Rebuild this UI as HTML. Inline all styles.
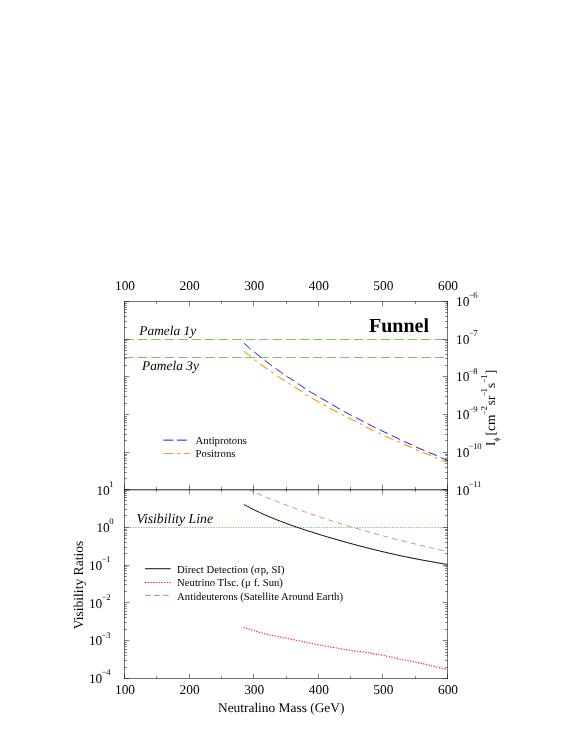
<!DOCTYPE html><html><head><meta charset="utf-8"><title>Funnel</title><style>
html,body{margin:0;padding:0;background:#fff;}body{width:572px;height:740px;overflow:hidden;}
svg{display:block;font-family:"Liberation Serif",serif;text-rendering:geometricPrecision;}
text{fill:#000;}
.t{font-size:13.4px;}.s{font-size:8.7px;letter-spacing:-0.4px;}.l{font-size:10.7px;}.i{font-size:13.4px;font-style:italic;}
</style></head><body>
<svg width="572" height="740" viewBox="0 0 572 740" style="opacity:0.999;will-change:transform">
<rect width="572" height="740" fill="#fff"/>
<path d="M124.2 339.5 H447.5" stroke="#58c23a" stroke-width="0.85" stroke-dasharray="9.5 4" fill="none"/>
<path d="M124.2 357.5 H447.5" stroke="#58c23a" stroke-width="0.85" stroke-dasharray="9.5 4" fill="none"/>
<path d="M244.0 343.2 L250.8 349.3 L254.2 352.0 L261.5 357.6 L264.7 360.3 L272.0 365.8 L275.5 368.4 L283.0 373.7 L286.7 376.3 L294.3 381.1 L297.6 383.4 L305.5 388.7 L308.4 391.0 L311.5 392.5 L316.7 395.5 L320.4 397.8 L328.6 402.5 L332.0 404.6 L339.8 409.1 L343.3 411.2 L351.7 415.5 L355.2 417.3 L363.9 421.8 L367.5 423.6 L375.9 428.1 L379.3 429.7 L387.9 433.6 L391.6 435.4 L399.9 439.4 L403.5 441.3 L412.1 444.9 L415.9 447.0 L424.5 450.5 L428.2 452.3 L436.9 455.6 L440.5 457.5 L447.5 460.4" stroke="#1c1cff" stroke-width="0.98" stroke-dasharray="9.13 4.32" fill="none"/>
<path d="M244.0 351.3 L251.0 356.9 L254.4 359.5 L256.6 361.3 L260.2 363.9 L267.6 369.3 L271.2 371.6 L273.6 373.4 L276.9 375.8 L284.8 380.8 L290.0 384.2 L294.2 386.8 L302.1 391.8 L305.2 394.4 L307.6 396.0 L311.5 397.8 L319.7 402.5 L323.4 404.4 L326.0 405.9 L329.7 408.3 L338.0 412.5 L341.3 414.2 L344.0 415.7 L348.2 417.8 L356.3 421.7 L360.1 423.6 L362.6 425.0 L366.2 427.1 L374.6 431.3 L378.3 432.7 L381.1 434.1 L384.9 435.9 L393.5 439.6 L397.0 440.9 L399.9 442.3 L403.7 444.2 L412.1 447.6 L415.9 449.7 L418.7 450.7 L422.4 452.3 L431.3 455.6 L435.2 457.3 L437.9 458.6 L441.5 460.5 L447.5 461.9" stroke="#ff9614" stroke-width="1.08" stroke-dasharray="9.1 4.35 2.75 4.4" fill="none"/>
<path d="M124.5 527.5 H447.5" stroke="#45be22" stroke-width="0.75" stroke-dasharray="1.3 1.4" fill="none"/>
<path d="M244.00 504.48 C244.87 504.95 247.48 506.39 249.22 507.31 C250.95 508.22 252.69 509.11 254.43 509.97 C256.17 510.83 257.91 511.66 259.65 512.47 C261.38 513.28 263.12 514.07 264.86 514.84 C266.60 515.61 268.34 516.35 270.08 517.08 C271.82 517.82 273.55 518.53 275.29 519.23 C277.03 519.92 278.77 520.60 280.51 521.27 C282.25 521.94 283.98 522.59 285.72 523.24 C287.46 523.88 289.20 524.51 290.94 525.13 C292.68 525.75 294.42 526.35 296.15 526.95 C297.89 527.55 299.63 528.14 301.37 528.72 C303.11 529.30 304.85 529.88 306.58 530.44 C308.32 531.01 310.06 531.57 311.80 532.12 C313.54 532.67 315.28 533.21 317.02 533.75 C318.75 534.29 320.49 534.82 322.23 535.35 C323.97 535.88 325.71 536.40 327.45 536.92 C329.18 537.43 330.92 537.94 332.66 538.45 C334.40 538.96 336.14 539.46 337.88 539.95 C339.62 540.45 341.35 540.94 343.09 541.43 C344.83 541.92 346.57 542.40 348.31 542.88 C350.05 543.35 351.78 543.83 353.52 544.30 C355.26 544.76 357.00 545.23 358.74 545.69 C360.48 546.14 362.22 546.60 363.95 547.05 C365.69 547.50 367.43 547.94 369.17 548.38 C370.91 548.82 372.65 549.25 374.38 549.68 C376.12 550.11 377.86 550.53 379.60 550.95 C381.34 551.37 383.08 551.78 384.82 552.18 C386.55 552.59 388.29 552.99 390.03 553.39 C391.77 553.78 393.51 554.17 395.25 554.56 C396.98 554.94 398.72 555.32 400.46 555.69 C402.20 556.06 403.94 556.43 405.68 556.79 C407.42 557.15 409.15 557.50 410.89 557.85 C412.63 558.20 414.37 558.54 416.11 558.88 C417.85 559.22 419.58 559.55 421.32 559.88 C423.06 560.20 424.80 560.53 426.54 560.84 C428.28 561.16 430.02 561.47 431.75 561.78 C433.49 562.09 435.23 562.39 436.97 562.69 C438.71 562.99 440.45 563.29 442.18 563.58 C443.92 563.87 446.53 564.31 447.40 564.45" stroke="#000" stroke-width="0.95" fill="none"/>
<path d="M249.70 490.23 C250.54 490.59 253.08 491.69 254.77 492.41 C256.46 493.13 258.15 493.84 259.84 494.55 C261.53 495.25 263.22 495.95 264.91 496.65 C266.60 497.34 268.29 498.03 269.98 498.71 C271.67 499.39 273.36 500.06 275.05 500.73 C276.74 501.39 278.43 502.06 280.12 502.71 C281.81 503.36 283.49 504.01 285.18 504.66 C286.87 505.30 288.56 505.93 290.25 506.56 C291.94 507.19 293.63 507.82 295.32 508.44 C297.01 509.05 298.70 509.67 300.39 510.27 C302.08 510.88 303.77 511.48 305.46 512.08 C307.15 512.67 308.84 513.26 310.53 513.85 C312.22 514.43 313.91 515.01 315.60 515.58 C317.29 516.16 318.98 516.72 320.67 517.29 C322.36 517.85 324.05 518.41 325.74 518.96 C327.43 519.51 329.12 520.06 330.81 520.60 C332.50 521.14 334.19 521.68 335.88 522.21 C337.57 522.74 339.26 523.27 340.95 523.79 C342.64 524.31 344.33 524.83 346.02 525.34 C347.71 525.86 349.39 526.37 351.08 526.87 C352.77 527.37 354.46 527.87 356.15 528.37 C357.84 528.86 359.53 529.35 361.22 529.84 C362.91 530.32 364.60 530.81 366.29 531.28 C367.98 531.76 369.67 532.23 371.36 532.70 C373.05 533.17 374.74 533.64 376.43 534.10 C378.12 534.56 379.81 535.02 381.50 535.47 C383.19 535.93 384.88 536.38 386.57 536.82 C388.26 537.27 389.95 537.71 391.64 538.15 C393.33 538.59 395.02 539.02 396.71 539.45 C398.40 539.89 400.09 540.31 401.78 540.74 C403.47 541.16 405.16 541.59 406.85 542.00 C408.54 542.42 410.23 542.84 411.92 543.25 C413.61 543.66 415.29 544.07 416.98 544.48 C418.67 544.88 420.36 545.29 422.05 545.69 C423.74 546.09 425.43 546.48 427.12 546.88 C428.81 547.27 430.50 547.67 432.19 548.05 C433.88 548.44 435.57 548.83 437.26 549.21 C438.95 549.60 440.64 549.98 442.33 550.36 C444.02 550.74 446.56 551.30 447.40 551.49" stroke="#ad6464" stroke-width="0.7" stroke-dasharray="5.3 4.2" stroke-dashoffset="1.4" fill="none"/>
<path d="M243.50 627.30 C245.25 627.87 249.92 629.48 254.00 630.70 C258.08 631.92 263.33 633.48 268.00 634.60 C272.67 635.72 277.33 636.47 282.00 637.40 C286.67 638.33 291.33 639.25 296.00 640.20 C300.67 641.15 305.33 642.17 310.00 643.10 C314.67 644.03 319.33 644.95 324.00 645.80 C328.67 646.65 333.33 647.40 338.00 648.20 C342.67 649.00 347.33 649.90 352.00 650.60 C356.67 651.30 362.17 651.83 366.00 652.40 C369.83 652.97 372.33 653.53 375.00 654.00 C377.67 654.47 379.67 654.77 382.00 655.20 C384.33 655.63 385.50 655.85 389.00 656.60 C392.50 657.35 398.33 658.73 403.00 659.70 C407.67 660.67 412.33 661.40 417.00 662.40 C421.67 663.40 425.93 664.50 431.00 665.70 C436.07 666.90 444.67 668.95 447.40 669.60" stroke="#ff1e1e" stroke-width="1.1" stroke-dasharray="1.3 1.4" fill="none"/>
<path d="M124.5 301.5 V678.5 M447.5 301.5 V678.5 M124.5 301.5 H447.5 M124.5 678.5 H447.5" stroke="#000" stroke-width="0.55" fill="none" stroke-linecap="square"/>
<path d="M124.5 489.5 H447.5 M124.5 490.0 H447.5" stroke="#000" stroke-width="0.5" fill="none"/>
<path d="M124.50 301.5 v4.8 M124.50 484.7 v9.6 M124.50 678.5 v-4.8 M156.50 301.5 v2.4 M156.50 487.1 v4.8 M156.50 678.5 v-2.4 M189.50 301.5 v4.8 M189.50 484.7 v9.6 M189.50 678.5 v-4.8 M221.50 301.5 v2.4 M221.50 487.1 v4.8 M221.50 678.5 v-2.4 M253.50 301.5 v4.8 M253.50 484.7 v9.6 M253.50 678.5 v-4.8 M286.50 301.5 v2.4 M286.50 487.1 v4.8 M286.50 678.5 v-2.4 M318.50 301.5 v4.8 M318.50 484.7 v9.6 M318.50 678.5 v-4.8 M350.50 301.5 v2.4 M350.50 487.1 v4.8 M350.50 678.5 v-2.4 M382.50 301.5 v4.8 M382.50 484.7 v9.6 M382.50 678.5 v-4.8 M415.50 301.5 v2.4 M415.50 487.1 v4.8 M415.50 678.5 v-2.4 M447.50 301.5 v4.8 M447.50 484.7 v9.6 M447.50 678.5 v-4.8 M124.5 301.50 h4.8 M447.5 301.50 h-4.8 M124.5 327.50 h2.4 M447.5 327.50 h-2.4 M124.5 321.50 h2.4 M447.5 321.50 h-2.4 M124.5 316.50 h2.4 M447.5 316.50 h-2.4 M124.5 312.50 h2.4 M447.5 312.50 h-2.4 M124.5 309.50 h2.4 M447.5 309.50 h-2.4 M124.5 307.50 h2.4 M447.5 307.50 h-2.4 M124.5 305.50 h2.4 M447.5 305.50 h-2.4 M124.5 303.50 h2.4 M447.5 303.50 h-2.4 M124.5 339.50 h4.8 M447.5 339.50 h-4.8 M124.5 365.50 h2.4 M447.5 365.50 h-2.4 M124.5 358.50 h2.4 M447.5 358.50 h-2.4 M124.5 354.50 h2.4 M447.5 354.50 h-2.4 M124.5 350.50 h2.4 M447.5 350.50 h-2.4 M124.5 347.50 h2.4 M447.5 347.50 h-2.4 M124.5 345.50 h2.4 M447.5 345.50 h-2.4 M124.5 342.50 h2.4 M447.5 342.50 h-2.4 M124.5 340.50 h2.4 M447.5 340.50 h-2.4 M124.5 376.50 h4.8 M447.5 376.50 h-4.8 M124.5 403.50 h2.4 M447.5 403.50 h-2.4 M124.5 396.50 h2.4 M447.5 396.50 h-2.4 M124.5 391.50 h2.4 M447.5 391.50 h-2.4 M124.5 388.50 h2.4 M447.5 388.50 h-2.4 M124.5 385.50 h2.4 M447.5 385.50 h-2.4 M124.5 382.50 h2.4 M447.5 382.50 h-2.4 M124.5 380.50 h2.4 M447.5 380.50 h-2.4 M124.5 378.50 h2.4 M447.5 378.50 h-2.4 M124.5 414.50 h4.8 M447.5 414.50 h-4.8 M124.5 440.50 h2.4 M447.5 440.50 h-2.4 M124.5 434.50 h2.4 M447.5 434.50 h-2.4 M124.5 429.50 h2.4 M447.5 429.50 h-2.4 M124.5 425.50 h2.4 M447.5 425.50 h-2.4 M124.5 422.50 h2.4 M447.5 422.50 h-2.4 M124.5 420.50 h2.4 M447.5 420.50 h-2.4 M124.5 418.50 h2.4 M447.5 418.50 h-2.4 M124.5 416.50 h2.4 M447.5 416.50 h-2.4 M124.5 452.50 h4.8 M447.5 452.50 h-4.8 M124.5 478.50 h2.4 M447.5 478.50 h-2.4 M124.5 472.50 h2.4 M447.5 472.50 h-2.4 M124.5 467.50 h2.4 M447.5 467.50 h-2.4 M124.5 463.50 h2.4 M447.5 463.50 h-2.4 M124.5 460.50 h2.4 M447.5 460.50 h-2.4 M124.5 458.50 h2.4 M447.5 458.50 h-2.4 M124.5 455.50 h2.4 M447.5 455.50 h-2.4 M124.5 454.50 h2.4 M447.5 454.50 h-2.4 M124.5 490.00 h4.8 M447.5 490.00 h-4.8 M124.5 489.50 h4.8 M447.5 489.50 h-4.8 M124.5 515.50 h2.4 M447.5 515.50 h-2.4 M124.5 509.50 h2.4 M447.5 509.50 h-2.4 M124.5 504.50 h2.4 M447.5 504.50 h-2.4 M124.5 500.50 h2.4 M447.5 500.50 h-2.4 M124.5 497.50 h2.4 M447.5 497.50 h-2.4 M124.5 495.50 h2.4 M447.5 495.50 h-2.4 M124.5 493.50 h2.4 M447.5 493.50 h-2.4 M124.5 491.50 h2.4 M447.5 491.50 h-2.4 M124.5 527.50 h4.8 M447.5 527.50 h-4.8 M124.5 553.50 h2.4 M447.5 553.50 h-2.4 M124.5 547.50 h2.4 M447.5 547.50 h-2.4 M124.5 542.50 h2.4 M447.5 542.50 h-2.4 M124.5 538.50 h2.4 M447.5 538.50 h-2.4 M124.5 535.50 h2.4 M447.5 535.50 h-2.4 M124.5 533.50 h2.4 M447.5 533.50 h-2.4 M124.5 530.50 h2.4 M447.5 530.50 h-2.4 M124.5 529.50 h2.4 M447.5 529.50 h-2.4 M124.5 565.50 h4.8 M447.5 565.50 h-4.8 M124.5 591.50 h2.4 M447.5 591.50 h-2.4 M124.5 584.50 h2.4 M447.5 584.50 h-2.4 M124.5 580.50 h2.4 M447.5 580.50 h-2.4 M124.5 576.50 h2.4 M447.5 576.50 h-2.4 M124.5 573.50 h2.4 M447.5 573.50 h-2.4 M124.5 570.50 h2.4 M447.5 570.50 h-2.4 M124.5 568.50 h2.4 M447.5 568.50 h-2.4 M124.5 566.50 h2.4 M447.5 566.50 h-2.4 M124.5 602.50 h4.8 M447.5 602.50 h-4.8 M124.5 629.50 h2.4 M447.5 629.50 h-2.4 M124.5 622.50 h2.4 M447.5 622.50 h-2.4 M124.5 617.50 h2.4 M447.5 617.50 h-2.4 M124.5 614.50 h2.4 M447.5 614.50 h-2.4 M124.5 611.50 h2.4 M447.5 611.50 h-2.4 M124.5 608.50 h2.4 M447.5 608.50 h-2.4 M124.5 606.50 h2.4 M447.5 606.50 h-2.4 M124.5 604.50 h2.4 M447.5 604.50 h-2.4 M124.5 640.50 h4.8 M447.5 640.50 h-4.8 M124.5 667.50 h2.4 M447.5 667.50 h-2.4 M124.5 660.50 h2.4 M447.5 660.50 h-2.4 M124.5 655.50 h2.4 M447.5 655.50 h-2.4 M124.5 652.50 h2.4 M447.5 652.50 h-2.4 M124.5 649.50 h2.4 M447.5 649.50 h-2.4 M124.5 646.50 h2.4 M447.5 646.50 h-2.4 M124.5 644.50 h2.4 M447.5 644.50 h-2.4 M124.5 642.50 h2.4 M447.5 642.50 h-2.4 M124.5 678.50 h4.8 M447.5 678.50 h-4.8" stroke="#000" stroke-width="0.50" fill="none"/>
<text class="t" x="125.0" y="289.8" text-anchor="middle">100</text>
<text class="t" x="125.0" y="694.3" text-anchor="middle">100</text>
<text class="t" x="189.6" y="289.8" text-anchor="middle">200</text>
<text class="t" x="189.6" y="694.3" text-anchor="middle">200</text>
<text class="t" x="254.2" y="289.8" text-anchor="middle">300</text>
<text class="t" x="254.2" y="694.3" text-anchor="middle">300</text>
<text class="t" x="318.8" y="289.8" text-anchor="middle">400</text>
<text class="t" x="318.8" y="694.3" text-anchor="middle">400</text>
<text class="t" x="383.4" y="289.8" text-anchor="middle">500</text>
<text class="t" x="383.4" y="694.3" text-anchor="middle">500</text>
<text class="t" x="448.0" y="289.8" text-anchor="middle">600</text>
<text class="t" x="448.0" y="694.3" text-anchor="middle">600</text>
<text class="t" x="281.2" y="712" text-anchor="middle">Neutralino Mass (GeV)</text>
<text class="t" x="456.0" y="306.1">10<tspan class="s" dx="-0.6" dy="-7.7">−6</tspan></text>
<text class="t" x="456.0" y="343.8">10<tspan class="s" dx="-0.6" dy="-7.7">−7</tspan></text>
<text class="t" x="456.0" y="381.4">10<tspan class="s" dx="-0.6" dy="-7.7">−8</tspan></text>
<text class="t" x="456.0" y="419.2">10<tspan class="s" dx="-0.6" dy="-7.7">−9</tspan></text>
<text class="t" x="456.0" y="456.9">10<tspan class="s" dx="-0.6" dy="-7.7">−10</tspan></text>
<text class="t" x="456.0" y="494.6">10<tspan class="s" dx="-0.6" dy="-7.7">−11</tspan></text>
<text class="t" x="96.4" y="494.8">10<tspan class="s" dx="-0.6" dy="-7.7">1</tspan></text>
<text class="t" x="96.4" y="531.9">10<tspan class="s" dx="-0.6" dy="-7.7">0</tspan></text>
<text class="t" x="88.9" y="569.7">10<tspan class="s" dx="-0.6" dy="-7.7">−1</tspan></text>
<text class="t" x="88.9" y="607.5">10<tspan class="s" dx="-0.6" dy="-7.7">−2</tspan></text>
<text class="t" x="88.9" y="645.3">10<tspan class="s" dx="-0.6" dy="-7.7">−3</tspan></text>
<text class="t" x="88.9" y="683.1">10<tspan class="s" dx="-0.6" dy="-7.7">−4</tspan></text>
<text transform="translate(83.3 585) rotate(-90)" text-anchor="middle" style="font-size:13.6px">Visibility Ratios</text>
<text transform="translate(495 445.6) rotate(-90)"><tspan x="-0.48" y="0.00" style="font-size:13.4px">I</tspan><tspan x="4.00" y="4.00" style="font-size:7.6px">ϕ</tspan><tspan x="10.10" y="0.00" style="font-size:13.4px">[cm</tspan><tspan x="30.70" y="-7.80" style="font-size:8.5px">−</tspan><tspan x="35.10" y="-7.80" style="font-size:9.0px">2</tspan><tspan x="40.40" y="0.00" style="font-size:13.4px">sr</tspan><tspan x="49.30" y="-7.80" style="font-size:8.5px">−</tspan><tspan x="53.20" y="-7.80" style="font-size:9.0px">1</tspan><tspan x="57.60" y="0.00" style="font-size:13.4px">s</tspan><tspan x="62.40" y="-7.80" style="font-size:8.5px">−</tspan><tspan x="66.70" y="-7.80" style="font-size:9.0px">1</tspan><tspan x="71.30" y="0.00" style="font-size:13.4px">]</tspan></text>
<text x="369" y="331.6" style="font-size:20px;font-weight:bold">Funnel</text>
<text class="i" x="139.3" y="335.3">Pamela 1y</text>
<text class="i" x="142" y="370.3">Pamela 3y</text>
<text class="i" x="136.5" y="522.5" style="font-size:13.75px">Visibility Line</text>
<path d="M163.4 440.15 H187" stroke="#1c1cff" stroke-width="1.0" stroke-dasharray="10 3.5" fill="none"/>
<path d="M163.4 453.5 H189.9" stroke="#ff9614" stroke-width="1.08" stroke-dasharray="10 3.5 3.8 3.2" fill="none"/>
<text class="l" x="195.6" y="443.7">Antiprotons</text>
<text class="l" x="195.6" y="456.8">Positrons</text>
<path d="M145 568.7 H170.6" stroke="#222" stroke-width="1.1" fill="none"/>
<path d="M145 582.5 H170.6" stroke="#ff1e1e" stroke-width="1.1" stroke-dasharray="1.3 1.4" fill="none"/>
<path d="M145 595.4 H170.6" stroke="#ad6464" stroke-width="0.75" stroke-dasharray="5.8 3.2" fill="none"/>
<text class="l" x="177.1" y="572.9">Direct Detection (<tspan style="letter-spacing:0.7px">σ</tspan>p, SI)</text>
<text class="l" x="177.1" y="586.2">Neutrino Tlsc. (<tspan style="letter-spacing:0.5px">μ</tspan> f. Sun)</text>
<text class="l" x="177.1" y="599.8">Antideuterons (Satellite Around Earth)</text>
</svg></body></html>
